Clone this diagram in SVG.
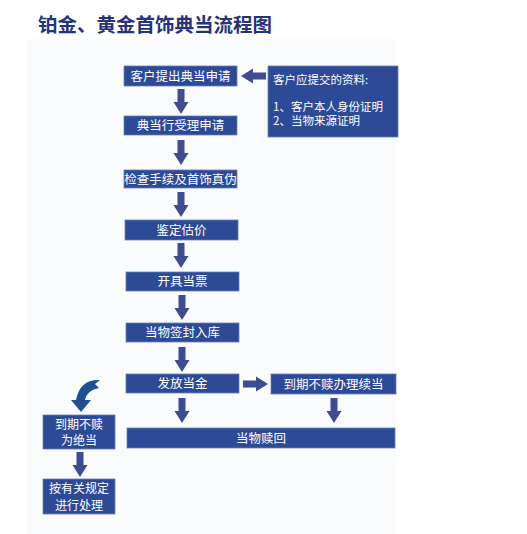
<svg xmlns="http://www.w3.org/2000/svg" xmlns:xlink="http://www.w3.org/1999/xlink" width="527" height="534" viewBox="0 0 527 534">
<style>
.box{fill:#2d4a96;stroke:#6b7fb5;stroke-width:0.8}
.t{fill:#ffffff;font-family:"Noto Sans CJK SC","Noto Sans",sans-serif;font-size:12.5px;text-anchor:middle}
.t2{fill:#ffffff;font-family:"Noto Sans CJK SC","Noto Sans",sans-serif;font-size:12px;text-anchor:middle}
.tl{fill:#ffffff;font-family:"Noto Sans CJK SC","Noto Sans",sans-serif;font-size:11.5px}
.arr{fill:#3e4d8f}
</style>
<defs>
<polygon id="down" points="-3.5,0 3.5,0 3.5,13 7.5,13 0,25 -7.5,13 -3.5,13"/>
</defs>
<rect x="0" y="0" width="527" height="534" fill="#ffffff"/>
<rect x="27" y="39" width="369" height="495" fill="#fafbfd"/>
<text x="38" y="32" font-family="'Noto Sans CJK SC','Noto Sans',sans-serif" font-size="19.5px" font-weight="bold" fill="#26337a">铂金、黄金首饰典当流程图</text>
<g id="connectors" class="arr">
<use xlink:href="#down" x="181" y="89"/>
<use xlink:href="#down" x="181" y="140"/>
<use xlink:href="#down" x="181" y="192"/>
<use xlink:href="#down" x="181" y="243"/>
<use xlink:href="#down" x="182" y="295"/>
<use xlink:href="#down" x="182" y="347"/>
<use xlink:href="#down" x="182" y="398"/>
<use xlink:href="#down" x="334" y="398"/>
<use xlink:href="#down" x="80" y="452"/>
<use xlink:href="#down" transform="translate(266,76) rotate(90)"/>
<use xlink:href="#down" transform="translate(243,384) rotate(-90)"/>
<path d="M100,380 Q80,379 76,400 L71,400 L81,412 L91,400 L85,400 Q87,390 99,388 L95,384 Z" fill="#1f4f8e"/>
</g>
<g id="n1"><rect class="box" x="124" y="66" width="113" height="20"/><text class="t" x="180.5" y="80.5">客户提出典当申请</text></g>
<g id="n2"><rect class="box" x="124" y="116" width="113" height="19"/><text class="t" x="180.5" y="130">典当行受理申请</text></g>
<g id="n3"><rect class="box" x="124" y="170" width="113" height="18"/><text class="t" x="180.5" y="183.5">检查手续及首饰真伪</text></g>
<g id="n4"><rect class="box" x="125" y="220" width="113" height="20"/><text class="t" x="181.5" y="234.5">鉴定估价</text></g>
<g id="n5"><rect class="box" x="126" y="272" width="113" height="19"/><text class="t" x="182.5" y="286">开具当票</text></g>
<g id="n6"><rect class="box" x="126" y="323" width="113" height="19"/><text class="t" x="182.5" y="337">当物签封入库</text></g>
<g id="n7"><rect class="box" x="126" y="374" width="113" height="19"/><text class="t" x="182.5" y="388">发放当金</text></g>
<g id="n8"><rect class="box" x="271" y="374" width="125" height="20"/><text class="t" x="333.5" y="388.5">到期不赎办理续当</text></g>
<g id="n9"><rect class="box" x="127" y="428" width="268" height="20"/><text class="t" x="261" y="442.5">当物赎回</text></g>
<g id="info"><rect class="box" x="268" y="66" width="130" height="71"/>
<text class="tl" x="273" y="84">客户应提交的资料:</text>
<text class="tl" x="273" y="110.5">1、客户本人身份证明</text>
<text class="tl" x="273" y="125">2、当物来源证明</text></g>
<g id="n10"><rect class="box" x="43" y="415" width="72" height="34"/><text class="t2" x="79" y="428.5">到期不赎</text><text class="t2" x="79" y="445">为绝当</text></g>
<g id="n11"><rect class="box" x="43" y="479" width="72" height="35"/><text class="t2" x="79" y="492.5">按有关规定</text><text class="t2" x="79" y="510">进行处理</text></g>
</svg>
